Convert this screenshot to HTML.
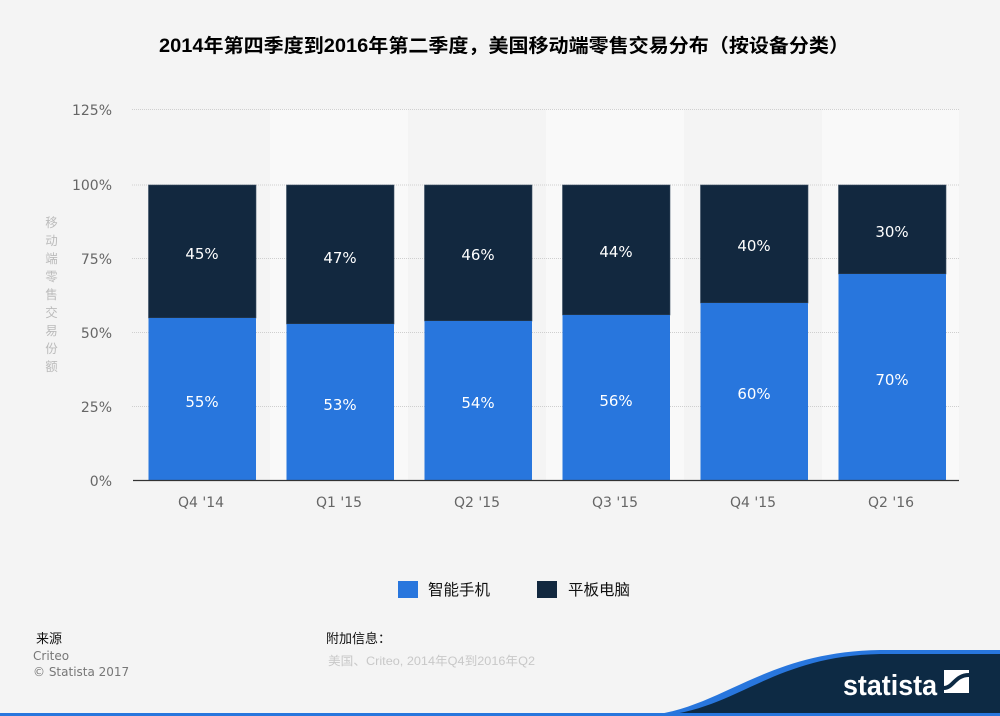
<!DOCTYPE html>
<html><head><meta charset="utf-8"><style>
html,body{margin:0;padding:0;background:#f4f4f4;}
svg{display:block;}
</style></head><body>
<svg width="1000" height="716" viewBox="0 0 1000 716" xmlns="http://www.w3.org/2000/svg">
<rect x="0" y="0" width="1000" height="716" fill="#f4f4f4"/>
<!-- title -->
<text x="504" y="52" text-anchor="middle" font-family="'Liberation Sans','Noto Sans CJK SC',sans-serif" font-size="19" font-weight="bold" fill="#000" textLength="690" lengthAdjust="spacingAndGlyphs">2014年第四季度到2016年第二季度，美国移动端零售交易分布（按设备分类）</text>
<!-- bands -->
<rect x="270" y="109" width="138" height="371" fill="#f9f9f9"/>
<rect x="546" y="109" width="138" height="371" fill="#f9f9f9"/>
<rect x="822" y="109" width="137" height="371" fill="#f9f9f9"/>
<!-- gridlines -->
<g stroke="#cfcfcf" stroke-width="1" stroke-dasharray="1,1">
<line x1="132" y1="109.5" x2="959" y2="109.5"/>
<line x1="132" y1="185" x2="959" y2="185"/>
<line x1="132" y1="258.5" x2="959" y2="258.5"/>
<line x1="132" y1="332.5" x2="959" y2="332.5"/>
<line x1="132" y1="406.5" x2="959" y2="406.5"/>
</g>
<!-- y ticks -->
<g font-family="'DejaVu Sans',sans-serif" font-size="14" fill="#666" text-anchor="end">
<text x="112" y="115">125%</text>
<text x="112" y="190">100%</text>
<text x="112" y="264">75%</text>
<text x="112" y="338">50%</text>
<text x="112" y="412">25%</text>
<text x="112" y="486">0%</text>
</g>
<!-- y axis title -->
<g font-family="'Noto Sans CJK SC',sans-serif" font-size="12.5" fill="#bbb" text-anchor="middle">
<text x="51.5" y="227">移</text>
<text x="51.5" y="245">动</text>
<text x="51.5" y="263">端</text>
<text x="51.5" y="281">零</text>
<text x="51.5" y="299">售</text>
<text x="51.5" y="317">交</text>
<text x="51.5" y="335">易</text>
<text x="51.5" y="353">份</text>
<text x="51.5" y="371">额</text>
</g>
<!-- bars -->
<g>
<rect x="148.5" y="185" width="107.5" height="133" fill="#12283f" stroke="#3a4d62" stroke-width="0.6"/>
<rect x="148.5" y="318" width="107.5" height="162.5" fill="#2876dd"/>
<rect x="286.5" y="185" width="107.5" height="139" fill="#12283f" stroke="#3a4d62" stroke-width="0.6"/>
<rect x="286.5" y="324" width="107.5" height="156.5" fill="#2876dd"/>
<rect x="424.5" y="185" width="107.5" height="136" fill="#12283f" stroke="#3a4d62" stroke-width="0.6"/>
<rect x="424.5" y="321" width="107.5" height="159.5" fill="#2876dd"/>
<rect x="562.5" y="185" width="107.5" height="130" fill="#12283f" stroke="#3a4d62" stroke-width="0.6"/>
<rect x="562.5" y="315" width="107.5" height="165.5" fill="#2876dd"/>
<rect x="700.5" y="185" width="107.5" height="118" fill="#12283f" stroke="#3a4d62" stroke-width="0.6"/>
<rect x="700.5" y="303" width="107.5" height="177.5" fill="#2876dd"/>
<rect x="838.5" y="185" width="107.5" height="89" fill="#12283f" stroke="#3a4d62" stroke-width="0.6"/>
<rect x="838.5" y="274" width="107.5" height="206.5" fill="#2876dd"/>
</g>
<!-- axis line -->
<line x1="133" y1="480.5" x2="959" y2="480.5" stroke="#333" stroke-width="1.2"/>
<!-- data labels -->
<g font-family="'DejaVu Sans',sans-serif" font-size="15" fill="#fff" text-anchor="middle">
<text x="202" y="259">45%</text>
<text x="202" y="407">55%</text>
<text x="340" y="263">47%</text>
<text x="340" y="410">53%</text>
<text x="478" y="260">46%</text>
<text x="478" y="408">54%</text>
<text x="616" y="257">44%</text>
<text x="616" y="406">56%</text>
<text x="754" y="251">40%</text>
<text x="754" y="399">60%</text>
<text x="892" y="237">30%</text>
<text x="892" y="385">70%</text>
</g>
<!-- x labels -->
<g font-family="'DejaVu Sans',sans-serif" font-size="14" fill="#666" text-anchor="middle">
<text x="201" y="507">Q4 '14</text>
<text x="339" y="507">Q1 '15</text>
<text x="477" y="507">Q2 '15</text>
<text x="615" y="507">Q3 '15</text>
<text x="753" y="507">Q4 '15</text>
<text x="891" y="507">Q2 '16</text>
</g>
<!-- legend -->
<rect x="398" y="581" width="20" height="17" fill="#2876dd"/>
<text x="428" y="595" font-family="'Noto Sans CJK SC',sans-serif" font-size="15.5" fill="#111">智能手机</text>
<rect x="537" y="581" width="20" height="17" fill="#12283f"/>
<text x="568" y="595" font-family="'Noto Sans CJK SC',sans-serif" font-size="15.5" fill="#111">平板电脑</text>
<!-- footer -->
<text x="36" y="643" font-family="'Noto Sans CJK SC',sans-serif" font-size="13" fill="#111">来源</text>
<text x="33" y="660" font-family="'DejaVu Sans',sans-serif" font-size="12" fill="#777">Criteo</text>
<text x="33" y="676" font-family="'DejaVu Sans',sans-serif" font-size="12" fill="#777">© Statista 2017</text>
<text x="326" y="643" font-family="'Noto Sans CJK SC',sans-serif" font-size="13" fill="#111">附加信息：</text>
<text x="328" y="665" font-family="'Liberation Sans','Noto Sans CJK SC',sans-serif" font-size="12" fill="#c8c8c8" textLength="207" lengthAdjust="spacingAndGlyphs">美国、Criteo, 2014年Q4到2016年Q2</text>
<!-- bottom decoration -->
<path d="M640 716 C 720 712, 760 652, 880 650 L 1000 650 L 1000 716 Z" fill="#2876dd"/>
<path d="M655 716 C 735 712, 770 656, 880 654 L 1000 654 L 1000 716 Z" fill="#0d2a44"/>
<rect x="0" y="713" width="1000" height="3" fill="#2876dd"/>
<text x="843" y="695" font-family="'Liberation Sans',sans-serif" font-size="29" font-weight="bold" fill="#fff" textLength="94" lengthAdjust="spacingAndGlyphs">statista</text>
<rect x="944" y="670" width="25" height="23" fill="#fff"/>
<path d="M944 688 C 953 688, 955 675, 969 675" stroke="#0d2a44" stroke-width="4" fill="none"/>
</svg>
</body></html>
